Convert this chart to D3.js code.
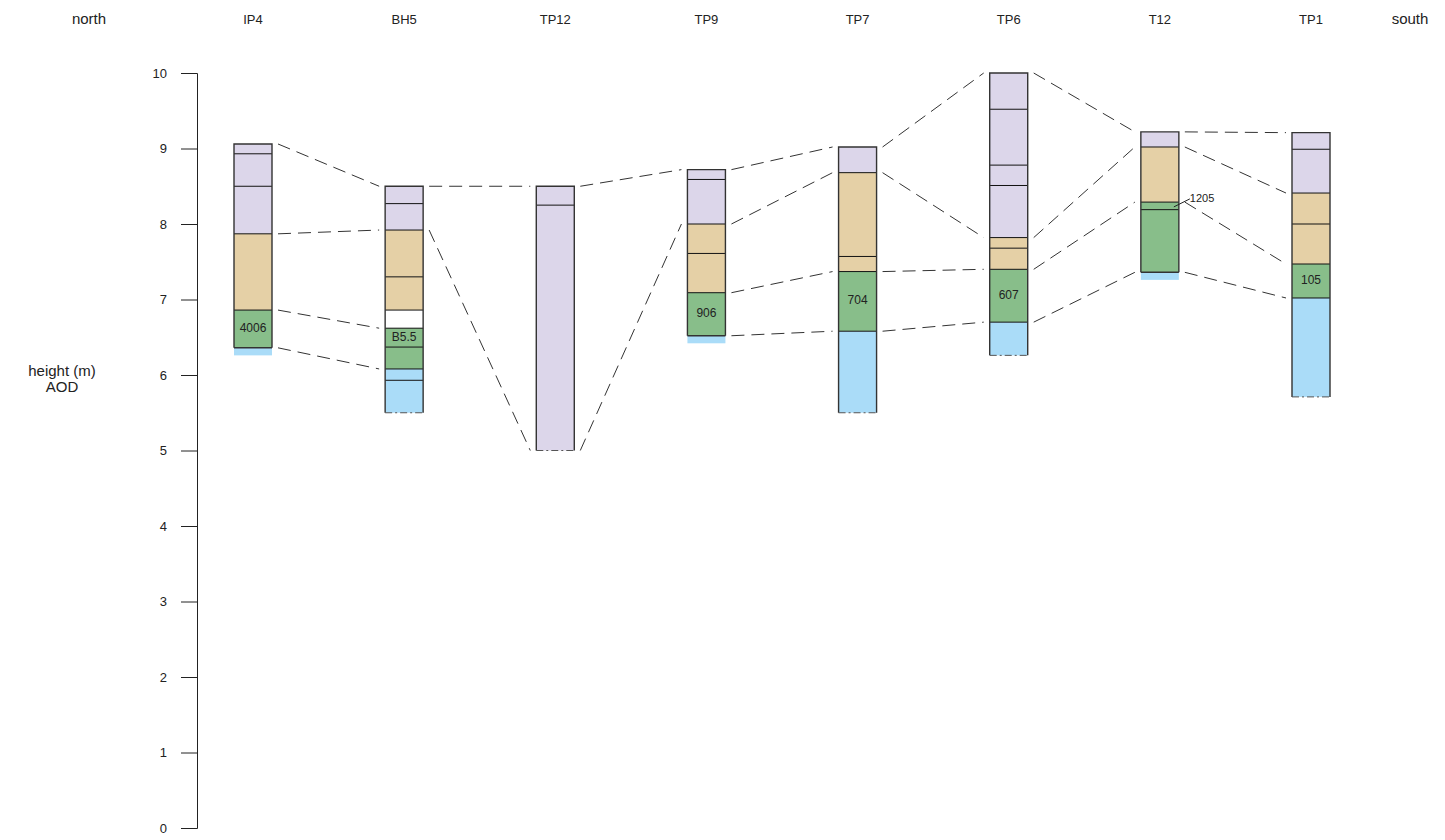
<!DOCTYPE html>
<html>
<head>
<meta charset="utf-8">
<script src="https://cdn.jsdelivr.net/npm/d3@7"></script>
<style>
  body { margin: 0; background: #fff; }
  text { font-family: "Liberation Sans", Arial, Helvetica, sans-serif; fill: #222; }
</style>
</head>
<body>
<svg id="chart" width="1445" height="840"></svg>
<script>
// site order along the section, north to south
const siteNames = ["IP4", "BH5", "TP12", "TP9", "TP7", "TP6", "T12", "TP1"];

// layer boundaries (m AOD, top to bottom) and the unit of each layer between them
const ip4Bounds = [9.06, 8.93, 8.5, 7.87, 6.86, 6.36];
const ip4Units = ["A", "A", "A", "B", "C"];
const bh5Bounds = [8.5, 8.27, 7.92, 7.30, 6.86, 6.62, 6.37, 6.08, 5.93, 5.5];
const bh5Units = ["A", "A", "B", "B", "W", "C", "C", "D", "D"];
const tp12Bounds = [8.5, 8.25, 5.0];
const tp12Units = ["A", "A"];
const tp9Bounds = [8.72, 8.59, 8.0, 7.61, 7.09, 6.52];
const tp9Units = ["A", "A", "B", "B", "C"];
const tp7Bounds = [9.02, 8.68, 7.57, 7.37, 6.58, 5.5];
const tp7Units = ["A", "B", "B", "C", "D"];
const tp6Bounds = [10.0, 9.52, 8.78, 8.51, 7.82, 7.68, 7.40, 6.70, 6.26];
const tp6Units = ["A", "A", "A", "A", "B", "B", "C", "D"];
const t12Bounds = [9.22, 9.02, 8.29, 8.19, 7.36];
const t12Units = ["A", "B", "C", "C"];
const tp1Bounds = [9.21, 8.99, 8.41, 8.0, 7.47, 7.02, 5.71];
const tp1Units = ["A", "A", "B", "B", "C", "D"];

// thin unit D strip under the closed logs (bottom height)
const baseStrip = { IP4: 6.26, TP9: 6.42, T12: 7.26 };
// logs whose base was not reached
const openBase = ["BH5", "TP12", "TP7", "TP6", "TP1"];

// sample numbers, by site and layer index
const sampleLabels = [
  { site: "IP4", layer: 4, text: "4006" },
  { site: "BH5", layer: 5, text: "B5.5" },
  { site: "TP9", layer: 4, text: "906" },
  { site: "TP7", layer: 3, text: "704" },
  { site: "TP6", layer: 6, text: "607" },
  { site: "TP1", layer: 4, text: "105" }
];
const calloutLabels = [{ site: "T12", layer: 2, text: "1205" }];

// correlation lines: from site, height, to site, height
const correlations = [
  ["IP4", 9.06, "BH5", 8.5], ["IP4", 7.87, "BH5", 7.92], ["IP4", 6.86, "BH5", 6.62], ["IP4", 6.36, "BH5", 6.08],
  ["BH5", 8.5, "TP12", 8.5], ["BH5", 7.92, "TP12", 5.0],
  ["TP12", 8.5, "TP9", 8.72], ["TP12", 5.0, "TP9", 8.0],
  ["TP9", 8.72, "TP7", 9.02], ["TP9", 8.0, "TP7", 8.68], ["TP9", 7.09, "TP7", 7.37], ["TP9", 6.52, "TP7", 6.58],
  ["TP7", 9.02, "TP6", 10.0], ["TP7", 8.68, "TP6", 7.82], ["TP7", 7.37, "TP6", 7.40], ["TP7", 6.58, "TP6", 6.70],
  ["TP6", 10.0, "T12", 9.22], ["TP6", 7.82, "T12", 9.02], ["TP6", 7.40, "T12", 8.29], ["TP6", 6.70, "T12", 7.36],
  ["T12", 9.22, "TP1", 9.21], ["T12", 9.02, "TP1", 8.41], ["T12", 8.29, "TP1", 7.47], ["T12", 7.36, "TP1", 7.02]
];

const yTicks = [0, 1, 2, 3, 4, 5, 6, 7, 8, 9, 10];

//pair each site with its bounds and units
const logs = {
  IP4: [ip4Bounds, ip4Units], BH5: [bh5Bounds, bh5Units], TP12: [tp12Bounds, tp12Units],
  TP9: [tp9Bounds, tp9Units], TP7: [tp7Bounds, tp7Units], TP6: [tp6Bounds, tp6Units],
  T12: [t12Bounds, t12Units], TP1: [tp1Bounds, tp1Units]
};

const unitColor = { A: "#dcd6ea", B: "#e5d0a6", C: "#88be8a", D: "#aadcf8", W: "#ffffff" };

const svg = d3.select("#chart");
const colW = 38;
const gap = 6;

const x = d3.scalePoint().domain(siteNames).range([253, 1311]);
const y = d3.scaleLinear().domain([0, 10]).range([828, 73]);

//y axis with end ticks making the bracket shape
const axis = svg.append("g")
  .attr("transform", "translate(197,0)")
  .call(d3.axisLeft(y).tickValues(yTicks).tickSize(16).tickPadding(14).tickFormat(d3.format("d")));
axis.selectAll("text").style("font-size", "13px").attr("fill", "#222");
axis.selectAll("line,path").attr("stroke", "#222");

svg.append("text").attr("x", 62).attr("y", 376).attr("text-anchor", "middle")
  .style("font-size", "15px").text("height (m)");
svg.append("text").attr("x", 62).attr("y", 392).attr("text-anchor", "middle")
  .style("font-size", "15px").text("AOD");

//header row
svg.append("text").attr("x", 89).attr("y", 24).attr("text-anchor", "middle")
  .style("font-size", "15px").text("north");
svg.append("text").attr("x", 1410).attr("y", 24).attr("text-anchor", "middle")
  .style("font-size", "15px").text("south");
svg.selectAll(".site").data(siteNames).enter().append("text")
  .attr("class", "site")
  .attr("x", d => x(d)).attr("y", 24).attr("text-anchor", "middle")
  .style("font-size", "13px").text(d => d);

//correlation lines go under the logs
svg.append("g").selectAll("line").data(correlations).enter().append("line")
  .attr("x1", d => x(d[0]) + colW / 2 + gap)
  .attr("y1", d => y(d[1]))
  .attr("x2", d => x(d[2]) - colW / 2 - gap)
  .attr("y2", d => y(d[3]))
  .attr("stroke", "#333")
  .attr("stroke-width", 1)
  .attr("stroke-dasharray", "13,7");

//draw each log
siteNames.forEach(site => {
  const [bounds, units] = logs[site];
  const g = svg.append("g");
  const left = x(site) - colW / 2;
  const top = bounds[0];
  const bottom = bounds[bounds.length - 1];

  if (baseStrip[site] !== undefined) {
    g.append("rect")
      .attr("x", left).attr("width", colW)
      .attr("y", y(bottom)).attr("height", y(baseStrip[site]) - y(bottom))
      .attr("fill", unitColor.D);
  }

  const layers = units.map((u, i) => ({ unit: u, top: bounds[i], base: bounds[i + 1] }));
  g.selectAll("rect.layer").data(layers).enter().append("rect")
    .attr("class", "layer")
    .attr("x", left).attr("width", colW)
    .attr("y", d => y(d.top)).attr("height", d => y(d.base) - y(d.top))
    .attr("fill", d => unitColor[d.unit]);

  //internal boundaries
  g.selectAll("line.bound").data(bounds.slice(1, -1)).enter().append("line")
    .attr("class", "bound")
    .attr("x1", left).attr("x2", left + colW)
    .attr("y1", d => y(d)).attr("y2", d => y(d))
    .attr("stroke", "#111").attr("stroke-width", 1);

  //outline: top and sides solid, base solid or dash-dot
  g.append("path")
    .attr("d", `M${left},${y(bottom)}V${y(top)}H${left + colW}V${y(bottom)}`)
    .attr("fill", "none").attr("stroke", "#333").attr("stroke-width", 1.4);
  const openB = openBase.includes(site);
  g.append("line")
    .attr("x1", left).attr("x2", left + colW)
    .attr("y1", y(bottom)).attr("y2", y(bottom))
    .attr("stroke", openB ? "#555" : "#333")
    .attr("stroke-width", openB ? 1 : 1.4)
    .attr("stroke-dasharray", openB ? "7,3,2,3" : null);
});

//sample numbers inside the logs
svg.selectAll(".sample").data(sampleLabels).enter().append("text")
  .attr("class", "sample")
  .attr("x", d => x(d.site))
  .attr("y", d => {
    const b = logs[d.site][0];
    return (y(b[d.layer]) + y(b[d.layer + 1])) / 2 + 3;
  })
  .attr("text-anchor", "middle")
  .style("font-size", "12px")
  .text(d => d.text);

//callout label for the thin layer
calloutLabels.forEach(d => {
  const b = logs[d.site][0];
  const my = (y(b[d.layer]) + y(b[d.layer + 1])) / 2;
  const ex = x(d.site) + colW / 2 - 5;
  svg.append("line")
    .attr("x1", ex).attr("y1", my + 1)
    .attr("x2", ex + 16).attr("y2", my - 7)
    .attr("stroke", "#222").attr("stroke-width", 1);
  svg.append("text")
    .attr("x", ex + 16).attr("y", my - 4)
    .style("font-size", "11px")
    .text(d.text);
});
</script>
</body>
</html>
